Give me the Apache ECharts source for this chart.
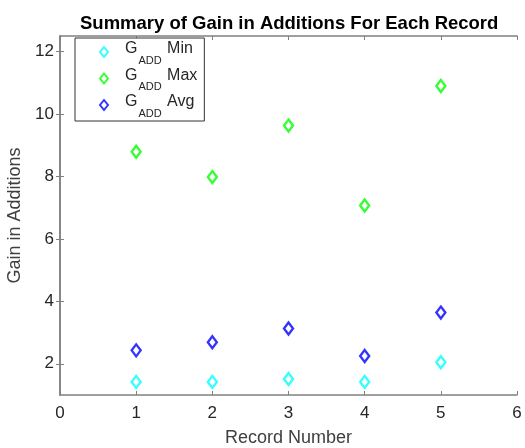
<!DOCTYPE html>
<html>
<head>
<meta charset="utf-8">
<script src="https://cdn.jsdelivr.net/npm/echarts@6/dist/echarts.min.js"></script>
<style>
html, body { margin: 0; padding: 0; background: #fff; }
#chart { width: 525px; height: 448px; }
</style>
</head>
<body>
<div id="chart"></div>
<script>
// record numbers on the x axis
var records = [1, 2, 3, 4, 5];
// gain in additions per record
var gainMin = [1.42, 1.42, 1.51, 1.42, 2.05];
var gainMax = [8.79, 7.98, 9.63, 7.07, 10.9];
var gainAvg = [2.43, 2.69, 3.13, 2.25, 3.64];
var yTicks = [2, 4, 6, 8, 10, 12];
var seriesNames = ['Min', 'Max', 'Avg'];

var axisColor = '#808080';
var labelColor = '#262626';
var fontFamily = 'Liberation Sans, Arial, sans-serif';

function pairs(vals){
	var out = [];
	for(var i = 0; i < records.length; i++){
		out.push([records[i], vals[i]]);
	}
	return out;
}

function diamondSeries(name, vals, color){
	return {
		name: name,
		type: 'scatter',
		symbol: 'diamond',
		symbolSize: [9, 12],
		itemStyle: {
			color: '#fff',
			borderColor: color,
			borderWidth: 2.4
		},
		data: pairs(vals)
	};
}

var chart = echarts.init(document.getElementById('chart'));
var option = {
	backgroundColor: '#fff',
	animation: false,
	textStyle: { fontFamily: fontFamily },
	title: {
		text: 'Summary of Gain in Additions For Each Record',
		left: 80,
		top: 14,
		padding: 0,
		textStyle: { fontSize: 18.5, fontWeight: 'bold', color: '#000', fontFamily: fontFamily }
	},
	legend: {
		orient: 'vertical',
		left: 75,
		top: 38,
		padding: [3, 7, 2, 24],
		itemGap: 1.5,
		itemWidth: 8,
		itemHeight: 10,
		borderColor: '#333',
		borderWidth: 1,
		backgroundColor: '#fff',
		data: seriesNames,
		formatter: function(name){
			return '{g|G}{sub|ADD}{g| ' + name + '}';
		},
		textStyle: {
			padding: [0, 0, 0, 12],
			rich: {
				g: { fontSize: 16, color: labelColor, fontFamily: fontFamily, lineHeight: 22, verticalAlign: 'top' },
				sub: { fontSize: 11, color: labelColor, fontFamily: fontFamily, lineHeight: 22, padding: [14, 1, 0, 1], verticalAlign: 'top' }
			}
		}
	},
	grid: { left: 60, right: 8, top: 36, bottom: 53, outerBoundsMode: 'none', containLabel: false },
	xAxis: [{
		type: 'value',
		min: 0,
		max: 6,
		interval: 1,
		name: 'Record Number',
		nameLocation: 'middle',
		nameGap: 34,
		nameTextStyle: { fontSize: 18, color: '#404040' },
		axisLine: { show: true, lineStyle: { color: axisColor, width: 1.5 } },
		axisTick: { show: true, inside: true, length: 4, lineStyle: { color: axisColor } },
		axisLabel: { fontSize: 17, color: labelColor, margin: 10 },
		splitLine: { show: false }
	}, {
		type: 'value',
		position: 'top',
		min: 0,
		max: 6,
		interval: 1,
		axisLine: { show: true, lineStyle: { color: axisColor, width: 1.5 } },
		axisTick: { show: true, inside: true, length: 4, lineStyle: { color: axisColor } },
		axisLabel: { show: false },
		splitLine: { show: false }
	}],
	yAxis: [{
		type: 'value',
		min: 1,
		max: 12.5,
		name: 'Gain in Additions',
		nameLocation: 'middle',
		nameGap: 31,
		nameTextStyle: { fontSize: 18, color: '#404040' },
		axisLine: { show: true, lineStyle: { color: axisColor, width: 1.5 } },
		axisTick: { show: true, inside: true, length: 4, customValues: yTicks, lineStyle: { color: axisColor } },
		axisLabel: { fontSize: 17, color: labelColor, margin: 6, customValues: yTicks },
		splitLine: { show: false }
	}, {
		type: 'value',
		position: 'right',
		min: 1,
		max: 12.5,
		axisLine: { show: true, lineStyle: { color: axisColor, width: 1.5 } },
		axisTick: { show: true, inside: true, length: 4, customValues: yTicks, lineStyle: { color: axisColor } },
		axisLabel: { show: false, customValues: yTicks },
		splitLine: { show: false }
	}],
	series: [
		diamondSeries('Min', gainMin, '#00ffff'),
		diamondSeries('Max', gainMax, '#00ff00'),
		diamondSeries('Avg', gainAvg, '#0000ff')
	]
};
chart.setOption(option);
</script>
</body>
</html>
